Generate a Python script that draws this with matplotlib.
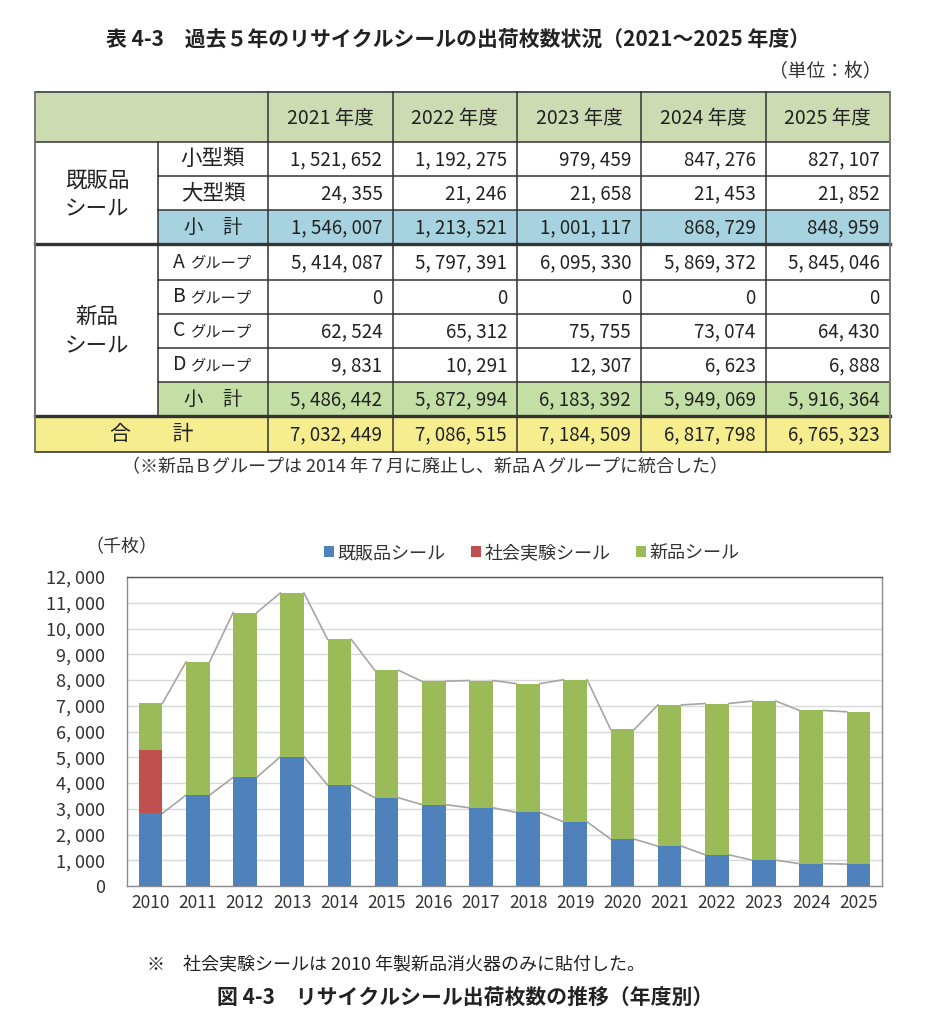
import numpy as np
import matplotlib
matplotlib.use("Agg")
import matplotlib.pyplot as plt
from matplotlib.patches import Rectangle

plt.rcParams['font.family'] = ['Noto Sans CJK JP', 'DejaVu Sans']

# ---- table data (枚) ----
tbl_years = ['2021 年度', '2022 年度', '2023 年度', '2024 年度', '2025 年度']
kihan_small = [1521652, 1192275, 979459, 847276, 827107]
kihan_large = [24355, 21246, 21658, 21453, 21852]
kihan_sub = [1546007, 1213521, 1001117, 868729, 848959]
shin_a = [5414087, 5797391, 6095330, 5869372, 5845046]
shin_b = [0, 0, 0, 0, 0]
shin_c = [62524, 65312, 75755, 73074, 64430]
shin_d = [9831, 10291, 12307, 6623, 6888]
shin_sub = [5486442, 5872994, 6183392, 5949069, 5916364]
grand_total = [7032449, 7086515, 7184509, 6817798, 6765323]

# ---- chart data (千枚) ----
years = ['2010', '2011', '2012', '2013', '2014', '2015', '2016', '2017',
         '2018', '2019', '2020', '2021', '2022', '2023', '2024', '2025']
kihan_k = [2820, 3530, 4220, 5020, 3920, 3430, 3160, 3040,
           2860, 2490, 1820, 1546, 1214, 1001, 869, 849]
shakai_k = [2460, 0, 0, 0, 0, 0, 0, 0, 0, 0, 0, 0, 0, 0, 0, 0]
shin_k = [1810, 5170, 6400, 6360, 5660, 4950, 4790, 4940,
          5000, 5520, 4260, 5486, 5873, 6183, 5949, 5916]
series_names = ['既販品シール', '社会実験シール', '新品シール']

W, H = 935, 1024
fig = plt.figure(figsize=(W / 100, H / 100), dpi=100)

# overlay in pixel coordinates for table and captions
ov = fig.add_axes([0, 0, 1, 1])
ov.set_xlim(0, W)
ov.set_ylim(H, 0)
ov.axis('off')


def fmt(v):
    return f"{v:,}".replace(",", ", ")


ov.text(458, 40, '表 4-3　過去５年のリサイクルシールの出荷枚数状況（2021～2025 年度）',
        ha='center', va='center', fontsize=15, fontweight='bold', color='#222222')
ov.text(882, 72, '（単位：枚）', ha='right', va='center', fontsize=13.5, color='#333333')

cols = [35, 158, 268, 392.5, 517, 641, 765.5, 889.5]
rows = [92, 142, 176, 210, 244, 280, 314, 348, 382, 416, 452]

c_head = '#CDDBB3'
c_blue = '#A7D2E0'
c_green = '#C3DFA6'
c_yellow = '#F5ED8E'
line_c = '#333333'


def cell(x0, x1, y0, y1, color):
    ov.add_patch(Rectangle((x0, y0), x1 - x0, y1 - y0, facecolor=color,
                           edgecolor='none', zorder=1))


cell(cols[0], cols[-1], rows[0], rows[1], c_head)
cell(cols[1], cols[-1], rows[3], rows[4], c_blue)
cell(cols[1], cols[-1], rows[8], rows[9], c_green)
cell(cols[0], cols[-1], rows[9], rows[10], c_yellow)

# grid lines
lw = 1.1
for y in [rows[1], rows[2], rows[3], rows[5], rows[6], rows[7], rows[8]]:
    x_start = cols[0] if y == rows[1] else cols[1]
    ov.plot([x_start, cols[-1]], [y, y], color=line_c, lw=lw, zorder=2)
for y in [rows[4], rows[9]]:
    ov.plot([cols[0], cols[-1]], [y, y], color=line_c, lw=2.4, zorder=2)
ov.plot([cols[0], cols[-1]], [rows[0], rows[0]], color='#555555', lw=1.4, zorder=2)
ov.plot([cols[0], cols[-1]], [rows[-1], rows[-1]], color='#555555', lw=1.4, zorder=2)
ov.plot([cols[0], cols[0]], [rows[0], rows[-1]], color='#777777', lw=1.4, zorder=2)
ov.plot([cols[-1], cols[-1]], [rows[0], rows[-1]], color='#777777', lw=1.4, zorder=2)
ov.plot([cols[1], cols[1]], [rows[1], rows[9]], color=line_c, lw=lw, zorder=2)
for x in cols[2:-1]:
    ov.plot([x, x], [rows[0], rows[-1]], color=line_c, lw=lw, zorder=2)

tc = '#222222'
for j, yl in enumerate(tbl_years):
    ov.text((cols[2 + j] + cols[3 + j]) / 2, (rows[0] + rows[1]) / 2 + 1, yl,
            ha='center', va='center', fontsize=14, color=tc, zorder=3)

ov.text(97, 195, '既販品\nシール', ha='center', va='center', fontsize=15.5,
        linespacing=1.45, color=tc, zorder=3)
ov.text(97, 332, '新品\nシール', ha='center', va='center', fontsize=15.5,
        linespacing=1.45, color=tc, zorder=3)

lab_x = (cols[1] + cols[2]) / 2
ov.text(lab_x, (rows[1] + rows[2]) / 2, '小型類', ha='center', va='center',
        fontsize=15.5, color=tc, zorder=3)
ov.text(lab_x, (rows[2] + rows[3]) / 2, '大型類', ha='center', va='center',
        fontsize=15.5, color=tc, zorder=3)
ov.text(lab_x, (rows[3] + rows[4]) / 2, '小　計', ha='center', va='center',
        fontsize=14, color=tc, zorder=3)
ov.text(lab_x, (rows[8] + rows[9]) / 2, '小　計', ha='center', va='center',
        fontsize=14, color=tc, zorder=3)
for k, g in enumerate(['A', 'B', 'C', 'D']):
    yc = (rows[4 + k] + rows[5 + k]) / 2
    ov.text(173, yc, g, ha='left', va='center', fontsize=14, color=tc, zorder=3)
    ov.text(190, yc + 1, 'グループ', ha='left', va='center', fontsize=11,
            color=tc, zorder=3)
ov.text(152, (rows[9] + rows[10]) / 2, '合　　計', ha='center', va='center',
        fontsize=15, color=tc, zorder=3)

body = [kihan_small, kihan_large, kihan_sub, shin_a, shin_b, shin_c, shin_d,
        shin_sub, grand_total]
for i, vals in enumerate(body):
    yc = (rows[1 + i] + rows[2 + i]) / 2 + 1
    for j, v in enumerate(vals):
        ov.text(cols[3 + j] - 10, yc, fmt(v), ha='right', va='center',
                fontsize=13.5, color=tc, zorder=3)

ov.text(425, 467, '（※新品Ｂグループは 2014 年７月に廃止し、新品Ａグループに統合した）',
        ha='center', va='center', fontsize=13, color='#333333')

# ---- chart ----
ax = fig.add_axes([127 / W, 1 - 886 / H, 755 / W, 309 / H])
x = np.arange(len(years))
bw = 0.5
c_kihan = '#4F81BD'
c_shakai = '#C0504D'
c_shin = '#9BBB59'
kihan_arr = np.array(kihan_k)
shakai_arr = np.array(shakai_k)
shin_arr = np.array(shin_k)
ax.bar(x, kihan_arr, bw, color=c_kihan, label=series_names[0], zorder=3)
ax.bar(x, shakai_arr, bw, bottom=kihan_arr, color=c_shakai,
       label=series_names[1], zorder=3)
ax.bar(x, shin_arr, bw, bottom=kihan_arr + shakai_arr, color=c_shin,
       label=series_names[2], zorder=3)

# series lines between stacked bars
tops = [kihan_arr, kihan_arr + shakai_arr + shin_arr]
for t in tops:
    for i in range(len(x) - 1):
        ax.plot([x[i] + bw / 2, x[i + 1] - bw / 2], [t[i], t[i + 1]],
                color='#A6A6A6', lw=1.2, zorder=2)

ax.set_xlim(-0.5, len(years) - 0.5)
ax.set_ylim(0, 12000)
ax.set_yticks(np.arange(0, 12001, 1000))
ax.set_yticklabels([fmt(v) for v in range(0, 12001, 1000)], fontsize=13,
                   color='#333333')
ax.set_xticks(x)
ax.set_xticklabels(years, fontsize=12.5, color='#333333')
ax.tick_params(axis='y', length=0, pad=16)
ax.tick_params(axis='x', length=0, pad=6)
ax.yaxis.grid(True, color='#D9D9D9', lw=1, zorder=0)
for s in ax.spines.values():
    s.set_color('#8C8C8C')
    s.set_linewidth(1)
ax.spines['top'].set_color('#555555')

ax.text(-0.007, 1.095, '（千枚）', transform=ax.transAxes, ha='center',
        va='center', fontsize=13, color='#333333')
ax.legend(loc='center', bbox_to_anchor=(0.536, 1.078), ncol=3, frameon=False,
          fontsize=13, handlelength=0.55, handleheight=0.55, handletextpad=0.2,
          columnspacing=1.4, labelcolor='#333333')

ov.text(147, 965, '※　社会実験シールは 2010 年製新品消火器のみに貼付した。',
        ha='left', va='center', fontsize=13, color='#222222')
ov.text(465, 997, '図 4-3　リサイクルシール出荷枚数の推移（年度別）',
        ha='center', va='center', fontsize=15, fontweight='bold', color='#222222')

fig.savefig('out.png', dpi=100)
